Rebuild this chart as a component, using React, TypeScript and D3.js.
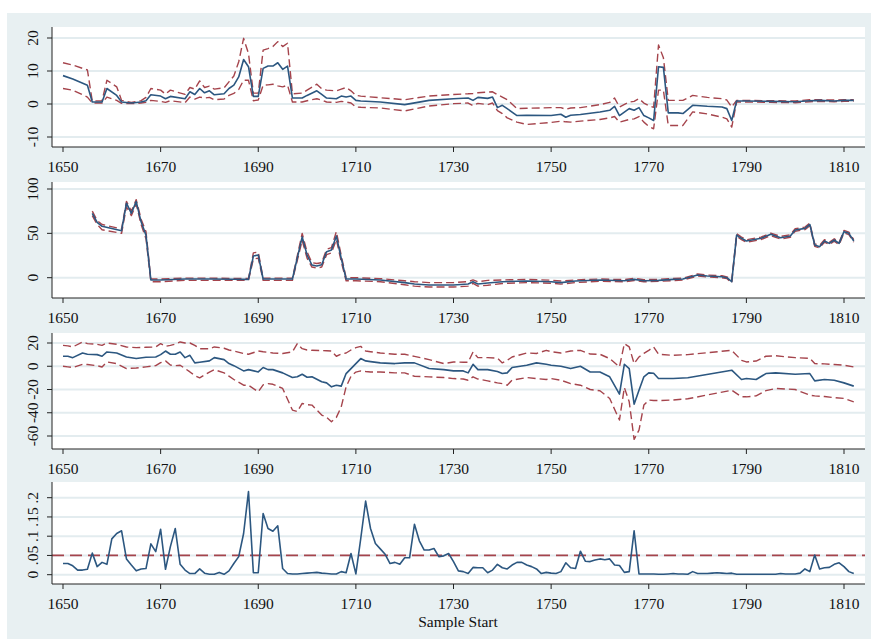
import React from "react";
import * as d3 from "d3";

// ---------- Panel 1: estimate with CI ----------
const P1_YEARS = [
  1650, 1652, 1655, 1656, 1658, 1659, 1661, 1662, 1664, 1666,
  1667, 1668, 1670, 1671, 1672, 1675, 1676, 1677, 1678, 1679,
  1680, 1681, 1683, 1684, 1685, 1686, 1687, 1688, 1689, 1690,
  1691, 1692, 1693, 1694, 1695, 1696, 1697, 1699, 1700, 1702,
  1703, 1704, 1706, 1707, 1708, 1709, 1710, 1711, 1715, 1720,
  1725, 1730, 1733, 1734, 1735, 1737, 1738, 1739, 1740, 1741,
  1743, 1745, 1750, 1752, 1753, 1754, 1756, 1760, 1762, 1763,
  1764, 1766, 1767, 1768, 1769, 1770, 1771, 1772, 1773, 1774,
  1776, 1777, 1779, 1782, 1785, 1786, 1787, 1788, 1790, 1795,
  1800, 1803, 1805, 1808, 1810, 1812,
];
const P1_MEAN = [
  8.6, 7.6, 5.7, 0.6, 0.6, 4.7, 2.6, 0.6, 0.3, 0.6,
  1.0, 2.8, 2.4, 1.6, 2.3, 1.6, 3.7, 2.9, 4.7, 3.4,
  4.0, 2.8, 3.1, 4.7, 5.7, 8.2, 13.5, 11.3, 2.3, 2.3,
  10.8, 11.5, 11.5, 12.5, 10.5, 11.5, 1.8, 1.8, 2.6, 4.0,
  2.9, 1.8, 1.6, 2.4, 2.1, 2.4, 1.1, 0.9, 0.6, -0.2,
  1.1, 1.6, 1.8, 1.1, 2.0, 1.7, 2.1, -1.1, -0.4, -1.4,
  -3.5, -3.4, -3.5, -3.1, -4.0, -3.4, -3.2, -2.4, -1.9, -0.7,
  -3.5, -1.4, -1.9, -1.1, -3.5, -4.2, -5.0, 11.3, 11.1, -2.7,
  -2.7, -2.9, -0.4, -0.7, -0.9, -1.4, -5.0, 0.9, 0.9, 0.8,
  0.7, 1.0, 1.1, 0.9, 1.1, 1.1,
];
const P1_HI = [
  12.5, 11.8, 10.3, 0.9, 1.0, 7.2, 5.2, 1.1, 0.5, 1.0,
  2.0, 4.7, 4.2, 3.0, 4.2, 2.9, 5.0, 4.5, 7.0, 5.0,
  5.4, 4.5, 4.9, 6.7, 8.5, 12.8, 19.9, 15.3, 3.3, 3.3,
  16.3, 16.8, 17.4, 18.9, 17.4, 18.4, 3.1, 3.3, 4.2, 6.0,
  4.6, 4.2, 4.0, 4.5, 5.0, 4.0, 2.6, 2.4, 1.9, 1.3,
  2.4, 2.9, 3.1, 3.2, 3.4, 3.6, 3.7, 2.8, 2.1, 1.3,
  -1.4, -1.3, -1.1, -1.1, -1.6, -1.2, -1.1, -0.2, 0.5, 1.8,
  -0.9, 0.6, 0.8, 1.6, 0.3, -0.5, -1.0, 17.9, 14.0, 1.1,
  1.1, 1.1, 2.6, 2.0, 1.6, 1.2, -0.9, 1.1, 1.1, 1.0,
  0.9, 1.3, 1.3, 1.2, 1.3, 1.3,
];
const P1_LO = [
  4.7, 4.2, 2.1, 0.3, 0.3, 2.1, 1.1, 0.2, 0.1, 0.3,
  0.5, 1.1, 0.8, 0.5, 1.0, 0.4, 2.1, 1.5, 2.1, 1.8,
  2.0, 1.3, 1.5, 2.6, 3.2, 4.4, 7.2, 7.2, 1.0, 1.2,
  5.7, 5.8, 6.0, 5.5, 5.2, 5.7, 0.6, 0.6, 1.0, 1.6,
  1.2, 0.6, 0.5, 0.8, 0.6, 0.3, -0.9, -1.0, -1.2, -2.1,
  -0.6, 0.1, 0.3, -0.5, 0.2, -0.2, 0.3, -2.0, -2.9, -4.2,
  -5.5, -6.2, -5.6, -5.2, -5.4, -5.5, -5.2, -4.7, -4.2, -3.8,
  -5.5, -4.7, -4.5, -3.8, -5.5, -6.8, -7.5, 4.2, 4.2, -6.5,
  -6.5, -6.5, -2.4, -3.0, -4.0, -4.5, -7.0, 0.6, 0.6, 0.5,
  0.4, 0.7, 0.8, 0.7, 0.8, 0.9,
];

// ---------- Panel 2 ----------
const P2_YEARS = [
  1656, 1657, 1658, 1662, 1663, 1664, 1665, 1666, 1667, 1668,
  1670, 1675, 1680, 1685, 1688, 1689, 1690, 1691, 1696, 1697,
  1699, 1700, 1701, 1702, 1703, 1704, 1705, 1706, 1707, 1708,
  1710, 1715, 1720, 1722, 1725, 1730, 1733, 1734, 1735, 1737,
  1740, 1745, 1750, 1752, 1755, 1760, 1765, 1767, 1769, 1772,
  1775, 1777, 1780, 1782, 1785, 1786, 1787, 1788, 1789, 1790,
  1793, 1795, 1797, 1799, 1800, 1802, 1803, 1804, 1805, 1806,
  1807, 1808, 1809, 1810, 1811, 1812,
];
const P2_MEAN = [
  72.6, 62.4, 58, 53, 84, 72.6, 85.7, 63, 48, -2.6,
  -2.6, -1.5, -1.5, -1.8, -1.9, 24.4, 25.6, -1.5, -1.5, -1.5,
  46, 25.6, 14.3, 13.2, 14.5, 29.3, 31.2, 47, 21.8, -1.5,
  -1.5, -2.6, -5.6, -7.1, -8.3, -8.3, -7.1, -4.5, -7.1, -6.0,
  -4.5, -3.8, -4.5, -5.6, -3.8, -2.6, -3.4, -1.9, -3.4, -3.0,
  -1.9, -1.5, 3.0, 1.9, 1.1, 0.0, -4.5, 48, 44.4, 41.4,
  44.4, 48.9, 45.1, 47, 53.8, 55.6, 60, 36.8, 35, 41.4,
  38.7, 42.5, 38.7, 51.9, 50, 41.4,
];
const P2_HI = [
  75, 64.5, 60, 55, 86, 75, 88, 66, 52, -1.5,
  -1.5, -0.5, -0.5, -0.8, -0.8, 28, 29, -0.5, -0.5, -0.5,
  50, 29, 17, 16, 17, 32, 34, 52, 25, 0,
  0, -1, -3.5, -4.5, -5.5, -5.5, -4.5, -2.5, -4.5, -3.0,
  -2.5, -2.0, -2.8, -3.8, -2.5, -1.5, -2.2, -0.8, -2.2, -1.8,
  -0.8, -0.5, 4.2, 3.0, 2.2, 1.0, -3.2, 49.5, 45.8, 42.8,
  45.8, 50.3, 46.5, 48.4, 55.2, 57, 61.5, 38.2, 36.4, 42.8,
  40, 43.9, 40, 53.3, 51.4, 42.8,
];
const P2_LO = [
  70, 60, 54, 50, 80, 70, 83, 60, 44, -4.5,
  -4.5, -3.0, -3.0, -3.0, -3.0, 21, 22, -3.0, -3.0, -3.0,
  42, 22, 12, 11, 12, 26, 28, 43, 18, -3.5,
  -3.5, -4.5, -8, -9.5, -10.5, -10.5, -9.5, -6.5, -9.5, -8.5,
  -6.5, -5.5, -6.2, -7.2, -5.5, -4.0, -4.6, -3.2, -4.6, -4.2,
  -3.2, -2.5, 1.8, 0.8, 0.0, -1.0, -5.8, 46.5, 43, 40,
  43, 47.5, 43.7, 45.6, 52.4, 54.2, 58.5, 35.4, 33.6, 40,
  37.3, 41.1, 37.3, 50.5, 48.6, 40,
];

// ---------- Panel 3 ----------
const P3_YEARS = [
  1650, 1651, 1652, 1654, 1655, 1657, 1658, 1659, 1661, 1663,
  1665, 1667, 1669, 1670, 1671, 1672, 1673, 1674, 1675, 1676,
  1677, 1678, 1680, 1681, 1683, 1684, 1685, 1687, 1688, 1690,
  1691, 1692, 1693, 1695, 1697, 1698, 1699, 1700, 1701, 1703,
  1704, 1705, 1706, 1707, 1708, 1709, 1710, 1711, 1712, 1713,
  1715, 1718, 1720, 1722, 1725, 1728, 1730, 1732, 1733, 1734,
  1735, 1737, 1739, 1740, 1741, 1742, 1745, 1747, 1749, 1750,
  1752, 1754, 1756, 1758, 1760, 1762, 1764, 1765, 1766, 1767,
  1768, 1769, 1770, 1771, 1772, 1775, 1778, 1787, 1789, 1790,
  1792, 1794, 1796, 1800, 1803, 1804, 1806, 1808, 1810, 1812,
];
const P3_MEAN = [
  8.6, 8.6, 7.4, 11.4, 10.3, 10.0, 8.6, 12.3, 11.4, 8.0,
  6.6, 7.7, 8.0, 10.0, 13.1, 10.3, 10.3, 12.3, 7.4, 9.4,
  2.9, 3.5, 4.6, 7.4, 5.7, 2.3, 0.5, -4.0, -2.9, -4.9,
  -1.1, -2.9, -2.9, -5.7, -9.7, -9.1, -6.9, -9.5, -9.1, -13.4,
  -14.3, -17.7, -16.3, -17.1, -6.3, -2.0, 2.3, 6.6, 4.6, 4.0,
  2.9, 2.3, 2.9, 2.9, -2.0, -2.9, -4.0, -4.0, -5.7, 1.7,
  -2.9, -2.9, -4.5, -6.3, -5.7, -1.1, 0.9, 2.9, 1.7, 0.9,
  0.0, -2.0, 0.0, -4.9, -4.9, -9.1, -24.0, 1.7, -2.0, -32.6,
  -20.6, -9.1, -5.7, -6.0, -10.6, -10.6, -9.9, -3.4, -11.4, -10.6,
  -11.4, -6.3, -5.7, -6.9, -6.3, -12.6, -11.4, -12.0, -14.3, -17.1,
];
const P3_HI = [
  18.0, 17.5, 16.6, 20.9, 19.5, 18.9, 18.0, 20.0, 18.9, 16.6,
  16.0, 16.3, 16.6, 19.4, 17.1, 18.0, 19.0, 20.9, 20.0, 20.0,
  18.0, 15.1, 15.0, 16.6, 15.5, 14.0, 13.1, 11.0, 10.3, 13.1,
  12.5, 12.0, 11.4, 11.0, 12.3, 19.4, 15.1, 14.0, 13.7, 13.5,
  13.3, 13.1, 8.6, 10.5, 11.4, 14.0, 16.0, 17.1, 13.1, 12.5,
  11.4, 10.3, 10.3, 8.5, 5.7, 2.3, 3.7, 3.5, 3.5, 12.3,
  7.4, 7.4, 7.0, 2.9, 5.0, 8.0, 11.4, 11.0, 13.7, 12.5,
  11.4, 13.1, 13.7, 10.5, 10.3, 6.6, -0.6, 19.4, 16.6, 2.3,
  8.0, 11.0, 13.7, 16.6, 10.3, 9.4, 10.0, 13.7, 5.1, 3.7,
  4.5, 8.6, 9.0, 7.4, 6.8, 2.3, 2.0, 1.5, 0.9, -0.6,
];
const P3_LO = [
  0.0, -0.5, -1.1, 1.7, 1.5, 0.5, -0.6, 3.7, 2.3, -2.0,
  -1.5, -0.5, 0.5, 3.1, 4.6, 1.0, 0.5, 0.9, -2.0, -4.9,
  -8.0, -10.0, -5.0, -2.9, -5.7, -8.5, -11.4, -16.3, -16.3, -22.0,
  -16.0, -14.9, -15.5, -19.1, -37.7, -39.0, -32.0, -33.0, -33.4, -42.0,
  -44.0, -47.7, -44.0, -34.9, -17.7, -8.6, -5.0, -4.0, -4.5, -4.9,
  -4.9, -5.7, -5.7, -8.6, -9.1, -9.7, -10.6, -11.0, -12.0, -9.1,
  -11.0, -12.6, -14.3, -15.0, -16.3, -12.0, -9.7, -10.6, -11.4, -10.6,
  -12.0, -15.0, -16.3, -20.0, -21.1, -27.7, -46.3, -18.3, -30.6, -62.9,
  -54.9, -33.4, -29.1, -29.5, -29.5, -29.0, -28.0, -20.6, -26.3, -26.3,
  -25.5, -21.0, -19.1, -20.0, -24.9, -25.5, -26.0, -27.0, -27.7, -30.6,
];

// ---------- Panel 4: p-values, one per year from 1650 ----------
const P4_START = 1650;
const P4_VALUES = [
  0.029, 0.029, 0.023, 0.012, 0.012, 0.014, 0.056, 0.021, 0.032, 0.027,
  0.093, 0.107, 0.114, 0.041, 0.025, 0.010, 0.015, 0.016, 0.080, 0.060,
  0.118, 0.014, 0.073, 0.120, 0.027, 0.012, 0.003, 0.003, 0.015, 0.004,
  0.001, 0.001, 0.006, 0.001, 0.010, 0.029, 0.047, 0.107, 0.216, 0.005,
  0.005, 0.159, 0.120, 0.113, 0.127, 0.016, 0.003, 0.002, 0.002, 0.003,
  0.004, 0.005, 0.006, 0.004, 0.003, 0.002, 0.002, 0.008, 0.005, 0.055,
  0.002, 0.094, 0.191, 0.120, 0.081, 0.067, 0.053, 0.029, 0.032, 0.027,
  0.044, 0.044, 0.131, 0.088, 0.064, 0.064, 0.068, 0.047, 0.049, 0.055,
  0.034, 0.010, 0.008, 0.003, 0.019, 0.018, 0.018, 0.005, 0.012, 0.027,
  0.018, 0.015, 0.025, 0.032, 0.032, 0.025, 0.021, 0.015, 0.003, 0.006,
  0.004, 0.003, 0.008, 0.031, 0.018, 0.016, 0.061, 0.035, 0.034, 0.038,
  0.041, 0.039, 0.041, 0.025, 0.024, 0.006, 0.008, 0.114, 0.002, 0.002,
  0.002, 0.002, 0.001, 0.001, 0.002, 0.003, 0.002, 0.002, 0.001, 0.008,
  0.003, 0.003, 0.003, 0.004, 0.005, 0.004, 0.003, 0.004, 0.001, 0.001,
  0.001, 0.001, 0.001, 0.001, 0.001, 0.001, 0.001, 0.003, 0.002, 0.002,
  0.002, 0.004, 0.015, 0.008, 0.051, 0.015, 0.018, 0.019, 0.027, 0.031,
  0.021, 0.008, 0.003,
];
const P4_THRESHOLD = 0.05;

// ---------- Axes ----------
const X_TICKS = [1650, 1670, 1690, 1710, 1730, 1750, 1770, 1790, 1810];
const P1_TICKS = [-10, 0, 10, 20];
const P2_TICKS = [0, 50, 100];
const P3_TICKS = [-60, -40, -20, 0, 20];
const P4_TICKS = [0, 0.05, 0.1, 0.15, 0.2];
const P4_TICK_LABELS = ["0", ".05", ".1", ".15", ".2"];
const X_TITLE = "Sample Start";

// ---------- Styling / layout ----------
const W = 871;
const H = 639;
const BG = "#e8f0f2";
const GRID = "#e3ecef";
const BLUE = "#2c5780";
const RED = "#a5444c";
const AXIS = "#222";
const FONT = "'Liberation Serif', 'Times New Roman', serif";
const FS = 15.5;
const PLOT_L = 52;
const PLOT_R = 865;

const x = d3.scaleLinear().domain([1650, 1810]).range([63, 844]);

type Series = { years: number[]; values: number[]; kind: "solid" | "dash" };

function Panel(props: {
  top: number;
  bottom: number;
  yDomain: [number, number];
  yRange: [number, number];
  ticks: number[];
  tickLabels?: string[];
  series: Series[];
  refValue?: number;
}) {
  const { top, bottom, yDomain, yRange, ticks, tickLabels, series, refValue } = props;
  const y = d3.scaleLinear().domain(yDomain).range(yRange);
  const line = d3
    .line<number>()
    .x((_, i, arr) => 0)
    .y(() => 0);
  const mk = (s: Series) =>
    d3
      .line<number>()
      .x((_, i) => x(s.years[i]))
      .y((v) => y(v))(s.values) || "";
  void line;
  return (
    <g>
      <rect x={PLOT_L} y={top} width={PLOT_R - PLOT_L} height={bottom - top} fill="#ffffff" />
      {ticks.map((t) => (
        <line key={"g" + t} x1={PLOT_L} x2={PLOT_R} y1={y(t)} y2={y(t)} stroke={GRID} strokeWidth={2} />
      ))}
      {refValue !== undefined && (
        <line
          x1={PLOT_L}
          x2={PLOT_R}
          y1={y(refValue)}
          y2={y(refValue)}
          stroke={RED}
          strokeWidth={1.7}
          strokeDasharray="12,6"
        />
      )}
      {series
        .filter((s) => s.kind === "dash")
        .map((s, i) => (
          <path
            key={"d" + i}
            d={mk(s)}
            fill="none"
            stroke={RED}
            strokeWidth={1.4}
            strokeDasharray="8,4"
            strokeLinejoin="round"
          />
        ))}
      {series
        .filter((s) => s.kind === "solid")
        .map((s, i) => (
          <path key={"s" + i} d={mk(s)} fill="none" stroke={BLUE} strokeWidth={1.6} strokeLinejoin="round" />
        ))}
      {/* axes */}
      <line x1={PLOT_L} x2={PLOT_L} y1={top} y2={bottom} stroke={AXIS} strokeWidth={1} />
      <line x1={PLOT_L} x2={PLOT_R} y1={bottom} y2={bottom} stroke={AXIS} strokeWidth={1} />
      {ticks.map((t, i) => (
        <g key={"yt" + t}>
          <line x1={PLOT_L - 5} x2={PLOT_L} y1={y(t)} y2={y(t)} stroke={AXIS} strokeWidth={1} />
          <text
            transform={`translate(38, ${y(t)}) rotate(-90)`}
            textAnchor="middle"
            fontSize={FS}
            fontFamily={FONT}
            fill="#111"
          >
            {tickLabels ? tickLabels[i] : String(t)}
          </text>
        </g>
      ))}
      {X_TICKS.map((t) => (
        <g key={"xt" + t}>
          <line x1={x(t)} x2={x(t)} y1={bottom} y2={bottom + 5} stroke={AXIS} strokeWidth={1} />
          <text x={x(t)} y={bottom + 25} textAnchor="middle" fontSize={FS} fontFamily={FONT} fill="#111">
            {t}
          </text>
        </g>
      ))}
    </g>
  );
}

export default function App() {
  const p4Years = P4_VALUES.map((_, i) => P4_START + i);
  return (
    <div style={{ position: "absolute", left: 0, top: 0, width: W, height: H, background: "#fff" }}>
      <svg width={W} height={H} style={{ display: "block" }}>
        <rect x={0} y={0} width={W} height={H} fill="#ffffff" />
        <rect x={7} y={13} width={W - 7} height={H - 13} fill={BG} />
        <Panel
          top={27}
          bottom={147}
          yDomain={[-10, 20]}
          yRange={[137, 38]}
          ticks={P1_TICKS}
          series={[
            { years: P1_YEARS, values: P1_HI, kind: "dash" },
            { years: P1_YEARS, values: P1_LO, kind: "dash" },
            { years: P1_YEARS, values: P1_MEAN, kind: "solid" },
          ]}
        />
        <Panel
          top={182}
          bottom={298}
          yDomain={[0, 100]}
          yRange={[277.7, 189]}
          ticks={P2_TICKS}
          series={[
            { years: P2_YEARS, values: P2_HI, kind: "dash" },
            { years: P2_YEARS, values: P2_LO, kind: "dash" },
            { years: P2_YEARS, values: P2_MEAN, kind: "solid" },
          ]}
        />
        <Panel
          top={333}
          bottom={449}
          yDomain={[-60, 20]}
          yRange={[436, 343]}
          ticks={P3_TICKS}
          series={[
            { years: P3_YEARS, values: P3_HI, kind: "dash" },
            { years: P3_YEARS, values: P3_LO, kind: "dash" },
            { years: P3_YEARS, values: P3_MEAN, kind: "solid" },
          ]}
        />
        <Panel
          top={482}
          bottom={584}
          yDomain={[0, 0.2]}
          yRange={[574.7, 497.7]}
          ticks={P4_TICKS}
          tickLabels={P4_TICK_LABELS}
          refValue={P4_THRESHOLD}
          series={[{ years: p4Years, values: P4_VALUES, kind: "solid" }]}
        />
        <text x={458} y={627} textAnchor="middle" fontSize={FS} fontFamily={FONT} fill="#111">
          {X_TITLE}
        </text>
      </svg>
    </div>
  );
}
